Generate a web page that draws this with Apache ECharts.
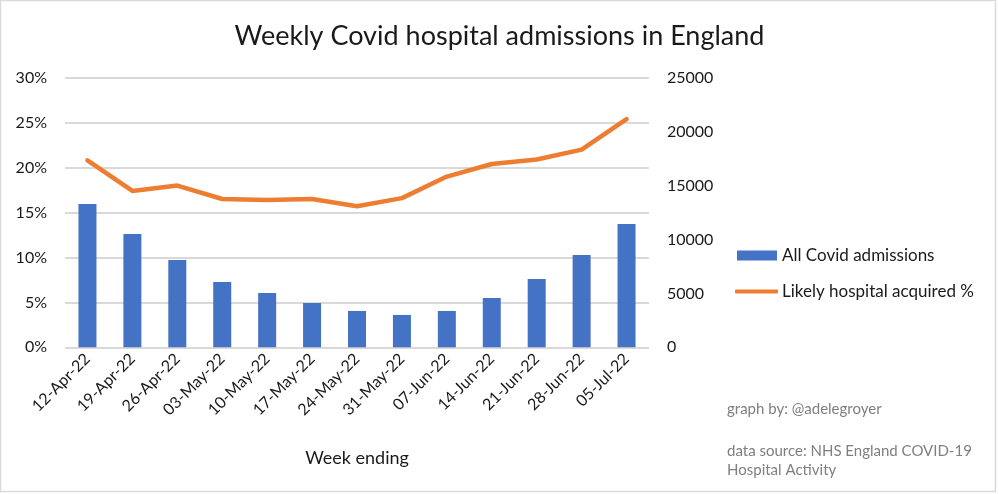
<!DOCTYPE html>
<html>
<head>
<meta charset="utf-8">
<script src="https://cdn.jsdelivr.net/npm/echarts@6/dist/echarts.min.js"></script>
<style>html,body{margin:0;padding:0;background:#fff}#c{width:999px;height:494px}</style>
</head>
<body>
<div id="c"></div>
<script>
const categories = ['12-Apr-22','19-Apr-22','26-Apr-22','03-May-22','10-May-22','17-May-22','24-May-22','31-May-22','07-Jun-22','14-Jun-22','21-Jun-22','28-Jun-22','05-Jul-22'];
const admissions = [13290, 10510, 8100, 6060, 5040, 4110, 3370, 3000, 3370, 4570, 6330, 8560, 11430];
const hospitalAcquiredPct = [20.8, 17.4, 18.0, 16.5, 16.4, 16.5, 15.7, 16.6, 19.0, 20.4, 20.9, 22.0, 25.4];
const titleText = 'Weekly Covid hospital admissions in England';
const xAxisName = 'Week ending';
const footer1 = 'graph by: @adelegroyer';
const footer2 = 'data source: NHS England COVID-19';
const footer3 = 'Hospital Activity';

const FONT = 'Lato, "Open Sans", sans-serif';
const chart = echarts.init(document.getElementById('c'), null, {renderer: 'canvas'});
chart.setOption({
  backgroundColor: '#ffffff',
  animation: false,
  textStyle: {fontFamily: FONT},
  title: {
    text: titleText, left: 'center', top: 18,
    textStyle: {fontFamily: FONT, fontSize: 27, fontWeight: 'normal', color: '#1a1a1a'}
  },
  grid: {left: 65, right: 350, top: 77.7, bottom: 146.7, containLabel: false},
  legend: [
    {data: ['All Covid admissions'], left: 737, top: 247, orient: 'vertical', padding: 0,
     itemWidth: 40, itemHeight: 10, itemGap: 0, icon: 'rect',
     textStyle: {fontFamily: FONT, fontSize: 17, color: '#1a1a1a', padding: [0,0,0,0]}},
    {data: ['Likely hospital acquired %'], left: 735, top: 283, orient: 'vertical', padding: 0,
     itemWidth: 43, itemHeight: 4, itemGap: 0, icon: 'roundRect',
     textStyle: {fontFamily: FONT, fontSize: 17, color: '#1a1a1a', padding: [0,0,0,-1]}}
  ],
  xAxis: {
    type: 'category', data: categories,
    name: xAxisName, nameLocation: 'middle', nameGap: 102,
    nameTextStyle: {fontFamily: FONT, fontSize: 18, color: '#1a1a1a'},
    axisLine: {show: false}, axisTick: {show: false},
    axisLabel: {rotate: 45, fontSize: 16, color: '#1a1a1a', margin: 9, fontFamily: FONT}
  },
  yAxis: [
    {type: 'value', min: 0, max: 30, interval: 5, position: 'left',
     axisLabel: {formatter: '{value}%', fontSize: 16, color: '#1a1a1a', margin: 18, fontFamily: FONT},
     splitLine: {lineStyle: {color: '#d9d9d9', width: 2}},
     axisLine: {show: false}, axisTick: {show: false}},
    {type: 'value', min: 0, max: 25000, interval: 5000, position: 'right',
     axisLabel: {formatter: function (v) { return String(v); }, fontSize: 16, color: '#1a1a1a', margin: 18, fontFamily: FONT},
     splitLine: {show: false},
     axisLine: {show: false}, axisTick: {show: false}}
  ],
  series: [
    {name: 'All Covid admissions', type: 'bar', yAxisIndex: 1, data: admissions,
     barWidth: 18, itemStyle: {color: '#4472c4'}},
    {name: 'Likely hospital acquired %', type: 'line', yAxisIndex: 0, data: hospitalAcquiredPct,
     symbol: 'none', lineStyle: {color: '#ed7d31', width: 4.5, cap: 'round', join: 'round'},
     itemStyle: {color: '#ed7d31'}}
  ],
  graphic: [
    {type: 'rect', shape: {x: 0.5, y: 0.5, width: 995, height: 491}, style: {fill: 'none', stroke: '#d9d9d9', lineWidth: 1.5}, silent: true},
    {type: 'text', left: 727, top: 402, style: {text: footer1, fontFamily: FONT, fontSize: 15, fill: '#7f7f7f'}},
    {type: 'text', left: 727, top: 444, style: {text: footer2, fontFamily: FONT, fontSize: 15, fill: '#7f7f7f'}},
    {type: 'text', left: 727, top: 463, style: {text: footer3, fontFamily: FONT, fontSize: 15, fill: '#7f7f7f'}}
  ]
});
</script>
</body>
</html>
